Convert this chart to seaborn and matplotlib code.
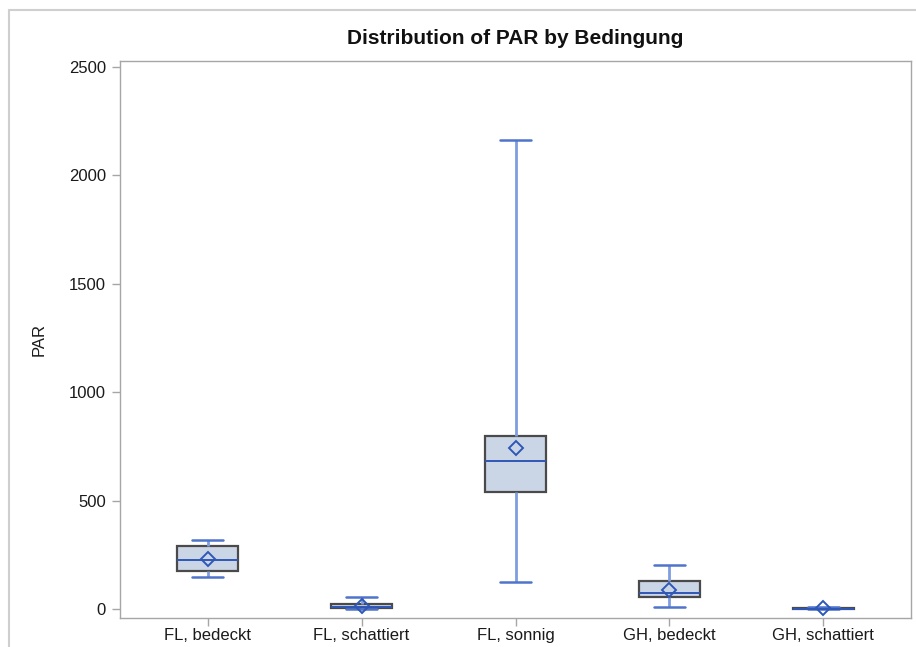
import numpy as np
import pandas as pd
import matplotlib
matplotlib.use("Agg")
import matplotlib.pyplot as plt
from matplotlib.lines import Line2D
import seaborn as sns

# ---- data (five-number summaries and means) ----
categories = ["FL, bedeckt", "FL, schattiert", "FL, sonnig", "GH, bedeckt", "GH, schattiert"]
mins = [146, 0, 123, 10, 0]
q1s = [177, 4, 541, 57, 1]
medians = [226, 12, 683, 72, 2]
q3s = [290, 24, 798, 129, 5]
maxs = [318, 58, 2163, 203, 10]
means = [230, 16, 741, 88, 7]
y_ticks = [0, 500, 1000, 1500, 2000, 2500]

rows = []
for c, a, b, m, d, e in zip(categories, mins, q1s, medians, q3s, maxs):
    for v in (a, b, m, d, e):
        rows.append({"Bedingung": c, "PAR": v})
df = pd.DataFrame(rows)
mean_df = pd.DataFrame({"Bedingung": categories, "PAR": means})

sns.set_theme(style="white")
plt.rcParams["font.family"] = ["Liberation Sans", "DejaVu Sans"]

fig = plt.figure(figsize=(9.16, 6.47), dpi=100)
ax = fig.add_axes([120 / 916, 1 - 618 / 647, (911 - 120) / 916, (618 - 61) / 647])

box_edge = "#4a4a4a"
whisk_col = "#809edd"
cap_col = "#4f74cc"
med_col = "#2f57b6"

sns.boxplot(
    data=df, x="Bedingung", y="PAR", order=categories, ax=ax,
    whis=(0, 100), width=0.4, color="#cad5e6", linecolor=box_edge, linewidth=1.6,
    saturation=1,
    boxprops=dict(edgecolor=box_edge, linewidth=1.6),
    whiskerprops=dict(color=whisk_col, linewidth=2.0),
    capprops=dict(color=cap_col, linewidth=1.8),
    medianprops=dict(color=med_col, linewidth=1.4),
    showfliers=False,
)

ax.plot(np.arange(len(categories)), mean_df["PAR"], linestyle="none", marker="D",
        markersize=7.5, markerfacecolor="none", markeredgecolor=med_col,
        markeredgewidth=1.4, zorder=5)

ax.set_xlim(-0.57, 4.57)
ax.set_ylim(-41, 2527)
ax.set_yticks(y_ticks)
ax.set_yticklabels([str(t) for t in y_ticks])

frame_col = "#a6a6a6"
for s in ax.spines.values():
    s.set_color(frame_col)
    s.set_linewidth(1.0)
ax.tick_params(axis="both", which="both", direction="out", length=6, width=1,
               color=frame_col, labelsize=12, labelcolor="#1a1a1a", pad=4,
               bottom=True, left=True)
ax.tick_params(axis="x", pad=1)

ax.set_xlabel("")
ax.set_ylabel("PAR", fontsize=12, color="#1a1a1a", labelpad=16)
ax.set_title("Distribution of PAR by Bedingung", fontsize=15, fontweight="bold",
             color="#111111", pad=12)

# outer frame lines like the reference
fig.add_artist(Line2D([9 / 916, 9 / 916], [0, 1 - 10 / 647], transform=fig.transFigure,
                      color="#cfcfcf", linewidth=1.5))
fig.add_artist(Line2D([9 / 916, 1], [1 - 10 / 647, 1 - 10 / 647], transform=fig.transFigure,
                      color="#cfcfcf", linewidth=1.5))

fig.savefig("out.png", dpi=100)
